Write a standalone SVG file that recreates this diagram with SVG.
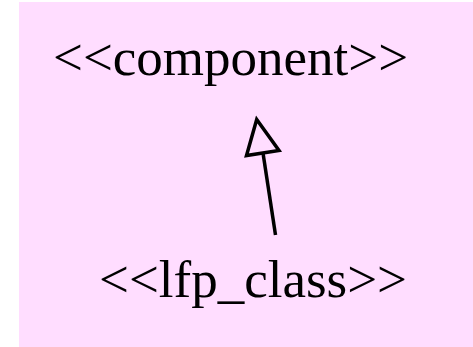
<svg xmlns="http://www.w3.org/2000/svg" width="473" height="347" viewBox="0 0 473 347">
<style>
.lbl{font-family:"Liberation Serif","Times New Roman",serif;font-size:53px;fill:#000}
.edge{stroke:#000;stroke-width:3.5;fill:none}
</style>
<rect x="0" y="0" width="473" height="347" fill="#fff"/>
<rect x="19" y="2" width="454" height="345" fill="#FFDDFF"/>
<g id="node-component"><text class="lbl" x="53" y="75">&lt;&lt;component&gt;&gt;</text></g>
<g id="node-lfp_class"><text class="lbl" x="99" y="297">&lt;&lt;lfp_class&gt;&gt;</text></g>
<g id="connectors">
<line class="edge" x1="275.5" y1="235" x2="263" y2="153"/>
<polygon class="edge" points="256.7,119.5 246.5,155.5 279,150.5" stroke-linejoin="miter"/>
</g>
</svg>
